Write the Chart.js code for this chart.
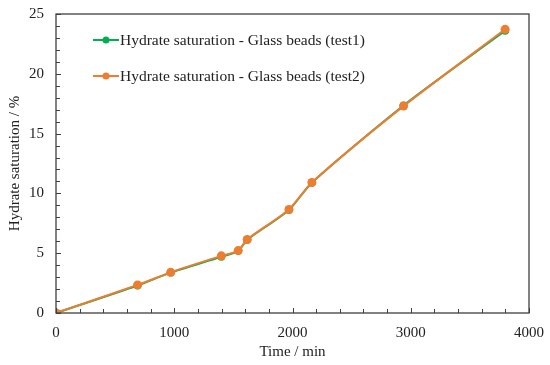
<!DOCTYPE html>
<html><head><meta charset="utf-8">
<script src="https://cdn.jsdelivr.net/npm/chart.js@4/dist/chart.umd.min.js"></script>
<style>html,body{margin:0;padding:0;background:#fff}#wrap{width:550px;height:365px}</style>
</head><body><div id="wrap"><canvas id="c"></canvas></div>
<script>
const timeTest1 = [0, 690, 970, 1398, 1541, 1617, 1970, 2164, 2939, 3798];
const satTest1  = [0, 2.30, 3.38, 4.70, 5.20, 6.12, 8.62, 10.9, 17.35, 23.6];
const timeTest2 = [0, 690, 970, 1398, 1541, 1617, 1970, 2164, 2939, 3798];
const satTest2  = [0, 2.35, 3.40, 4.78, 5.22, 6.15, 8.66, 10.92, 17.30, 23.72];
const seriesNames = ['Hydrate saturation - Glass beads (test1)', 'Hydrate saturation - Glass beads (test2)'];
const xTickLabels = [0, 1000, 2000, 3000, 4000];
const yTickLabels = [0, 5, 10, 15, 20, 25];
const xTitle = 'Time / min';
const yTitle = 'Hydrate saturation / %';

const GREEN = '#00B050', ORANGE = '#ED7D31', AXIS = '#404040';
const FONT = "'Liberation Serif', 'Times New Roman', serif";

function pts(xs, ys){ return xs.map((x,i)=>({x, y: ys[i]})); }

const frame = {
  id: 'frame',
  afterDraw(chart){
    const {ctx, chartArea: a, scales: {x, y}} = chart;
    ctx.save();
    ctx.strokeStyle = AXIS;
    ctx.lineWidth = 1.3;
    ctx.strokeRect(a.left, a.top, a.right - a.left, a.bottom - a.top);
    ctx.lineWidth = 1;
    x.ticks.forEach((t, i) => {
      const p = Math.round(x.getPixelForTick(i)) + 0.5;
      const len = (t.value % 1000 === 0) ? 5 : 4;
      ctx.beginPath(); ctx.moveTo(p, a.bottom); ctx.lineTo(p, a.bottom - len); ctx.stroke();
    });
    y.ticks.forEach((t, i) => {
      const p = Math.round(y.getPixelForTick(i)) + 0.5;
      const len = (t.value % 5 === 0) ? 5 : 4;
      ctx.beginPath(); ctx.moveTo(a.left, p); ctx.lineTo(a.left + len, p); ctx.stroke();
    });
    // legend
    const items = [[seriesNames[0], GREEN, 40], [seriesNames[1], ORANGE, 76]];
    ctx.font = '15.5px ' + FONT;
    ctx.textBaseline = 'middle';
    items.forEach(([txt, col, yy]) => {
      ctx.strokeStyle = col; ctx.lineWidth = 2;
      ctx.beginPath(); ctx.moveTo(93, yy); ctx.lineTo(119, yy); ctx.stroke();
      ctx.fillStyle = col;
      ctx.beginPath(); ctx.arc(106, yy, 3.5, 0, Math.PI*2); ctx.fill();
      ctx.fillStyle = '#222';
      ctx.fillText(txt, 120, yy + 1);
    });
    ctx.restore();
  }
};

new Chart(document.getElementById('c'), {
  type: 'line',
  data: {
    datasets: [
      { label: seriesNames[0], data: pts(timeTest1, satTest1), borderColor: GREEN, backgroundColor: GREEN,
        borderWidth: 2, pointRadius: 4, pointBorderWidth: 0, tension: 0.25, order: 2 },
      { label: seriesNames[1], data: pts(timeTest2, satTest2), borderColor: ORANGE, backgroundColor: ORANGE,
        borderWidth: 2, pointRadius: 4.5, pointBorderWidth: 0, tension: 0.25, order: 1 }
    ]
  },
  options: {
    responsive: true, maintainAspectRatio: false, animation: false,
    layout: { padding: { top: 14, right: 21, left: 0, bottom: 0 } },
    plugins: { legend: { display: false }, tooltip: { enabled: false } },
    scales: {
      x: {
        type: 'linear', min: 0, max: 4000,
        border: { display: false },
        grid: { display: false, drawTicks: false },
        ticks: { stepSize: 200, autoSkip: false, maxRotation: 0, padding: 11, color: '#222',
          font: { family: FONT, size: 15 },
          callback: v => xTickLabels.includes(v) ? String(v) : '' },
        title: { display: true, text: xTitle, color: '#222', font: { family: FONT, size: 15 }, padding: { top: 0, bottom: 4 } },
        afterFit: s => { s.height = 52; s.paddingLeft = 0; s.paddingRight = 0; }
      },
      y: {
        type: 'linear', min: 0, max: 25,
        border: { display: false },
        grid: { display: false, drawTicks: false },
        ticks: { stepSize: 1, autoSkip: false, padding: 12, color: '#222',
          font: { family: FONT, size: 15 },
          callback: v => yTickLabels.includes(v) ? String(v) : '' },
        title: { display: true, text: yTitle, color: '#222', font: { family: FONT, size: 15 }, padding: { top: 6, bottom: 0 } },
        afterFit: s => { s.width = 56; s.paddingTop = 0; s.paddingBottom = 0; }
      }
    }
  },
  plugins: [frame]
});
</script></body></html>
